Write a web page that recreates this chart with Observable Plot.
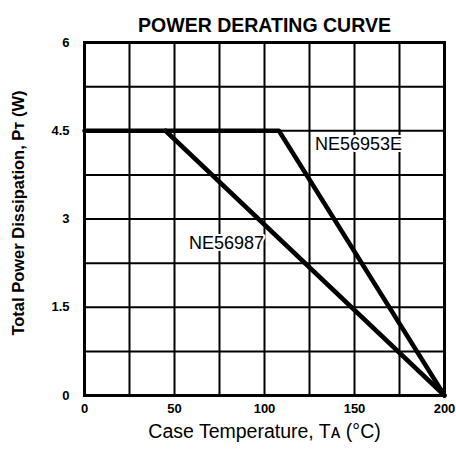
<!DOCTYPE html>
<html><head><meta charset="utf-8">
<script src="https://cdn.jsdelivr.net/npm/d3@7"></script>
<script src="https://cdn.jsdelivr.net/npm/@observablehq/plot@0.6"></script>
<style>body{margin:0;background:#fff}</style>
</head><body><div id="chart"></div>
<script>
const title = "POWER DERATING CURVE";
const xLabel = "Case Temperature, Tᴀ (°C)";
const yLabel = "Total Power Dissipation, Pᴛ (W)";
const xTicks = [0, 50, 100, 150, 200];
const yTicks = [0, 1.5, 3, 4.5, 6];
const xGrid = [0, 25, 50, 75, 100, 125, 150, 175, 200];
const yGrid = [0, 0.75, 1.5, 2.25, 3, 3.75, 4.5, 5.25, 6];
const tempA = [0, 108, 200];
const powerA = [4.5, 4.5, 0];
const tempB = [45, 200];
const powerB = [4.5, 0];
const labelNames = ["NE56953E", "NE56987"];
const labelX = [128, 58];
const labelY = [4.27, 2.58];

const seriesA = tempA.map((t, i) => ({t, p: powerA[i]}));
const seriesB = tempB.map((t, i) => ({t, p: powerB[i]}));
const labels = labelNames.map((n, i) => ({n, x: labelX[i], y: labelY[i]}));

const chart = Plot.plot({
  width: 456, height: 449,
  marginLeft: 84, marginRight: 12, marginTop: 42, marginBottom: 54,
  style: {fontFamily: "'Liberation Sans', Arial, sans-serif", background: "#fff", color: "#000"},
  x: {domain: [0, 200]},
  y: {domain: [0, 6]},
  marks: [
    Plot.gridX(xGrid, {stroke: "#000", strokeOpacity: 1, strokeWidth: 2}),
    Plot.gridY(yGrid, {stroke: "#000", strokeOpacity: 1, strokeWidth: 2}),
    Plot.line(seriesA, {x: "t", y: "p", stroke: "#000", strokeWidth: 4.5}),
    Plot.line(seriesB, {x: "t", y: "p", stroke: "#000", strokeWidth: 4.5}),
    Plot.text(labels, {x: "x", y: "y", text: "n", textAnchor: "start", fontSize: 18, fill: "#000", stroke: "#fff", strokeWidth: 4}),
    Plot.frame({stroke: "#000", strokeWidth: 3}),
    Plot.axisX(xTicks, {tickSize: 0, tickPadding: 8, fontSize: 13, fontWeight: "bold", label: null}),
    Plot.axisY(yTicks, {tickSize: 0, tickPadding: 15, fontSize: 13, fontWeight: "bold", label: null, tickFormat: d => String(d)}),
    Plot.text([title], {frameAnchor: "top", dy: -24, fontSize: 19.5, fontWeight: "bold", fill: "#000", letterSpacing: "1.6px"}),
    Plot.text([xLabel], {frameAnchor: "bottom", dy: 42, fontSize: 19.5, fill: "#000"}),
    Plot.text([yLabel], {frameAnchor: "left", textAnchor: "middle", dx: -66, dy: -6, rotate: -90, fontSize: 16.5, fontWeight: "bold", fill: "#000", letterSpacing: "0.4px"})
  ]
});
document.getElementById("chart").appendChild(chart);
</script>
</body></html>
